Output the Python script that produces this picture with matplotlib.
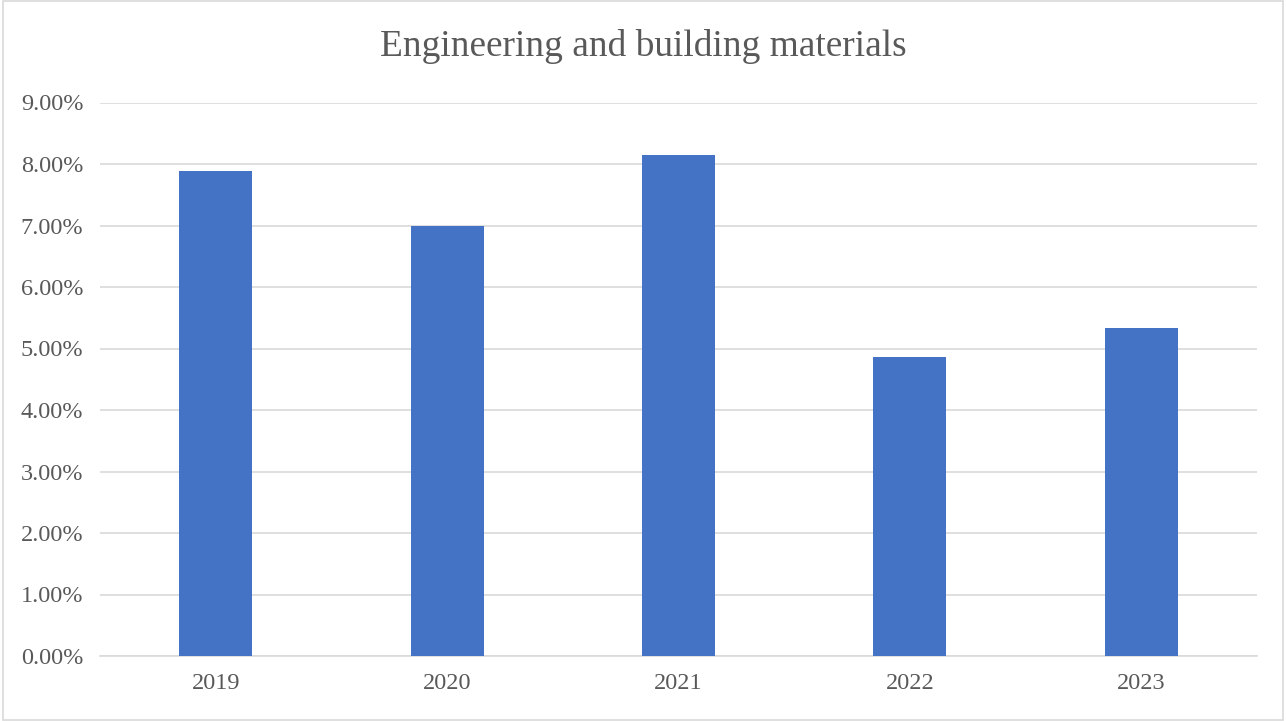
import matplotlib.pyplot as plt
from matplotlib.patches import Rectangle
from matplotlib.ticker import FuncFormatter

years = ['2019', '2020', '2021', '2022', '2023']
share = [7.89, 6.99, 8.14, 4.86, 5.34]
y_ticks = [0, 1, 2, 3, 4, 5, 6, 7, 8, 9]

plt.rcParams['font.family'] = ['Liberation Serif', 'DejaVu Serif']

fig = plt.figure(figsize=(12.86, 7.21), dpi=100)
ax = fig.add_axes([100 / 1286, 1 - 656 / 721, (1257 - 100) / 1286, (656 - 102.5) / 721])

ax.bar(range(len(years)), share, width=0.315, color='#4472C4', zorder=3)

ax.set_xlim(-0.5, len(years) - 0.5)
ax.set_ylim(0, 9)
ax.set_yticks(y_ticks)
ax.yaxis.set_major_formatter(FuncFormatter(lambda v, _: f'{v:.2f}%'))
ax.set_xticks(range(len(years)))
ax.set_xticklabels(years)

ax.grid(axis='y', color='#D9D9D9', linewidth=1.2, zorder=0)
for side in ['top', 'right', 'left']:
    ax.spines[side].set_visible(False)
ax.spines['bottom'].set_color('#D9D9D9')
ax.spines['bottom'].set_linewidth(1.2)
ax.tick_params(axis='both', length=0, labelsize=17.5, labelcolor='#595959')
ax.tick_params(axis='y', pad=12)
ax.tick_params(axis='x', pad=12)

fig.text(0.5, 1 - 46 / 721, 'Engineering and building materials',
         ha='center', va='center', fontsize=26.9, color='#595959')

# thin frame around the whole chart
fig.patches.append(Rectangle((0.002, 0.002), 0.996, 0.996, transform=fig.transFigure,
                             fill=False, edgecolor='#D9D9D9', linewidth=1.2))

fig.savefig('out.png', dpi=100, facecolor='white')
